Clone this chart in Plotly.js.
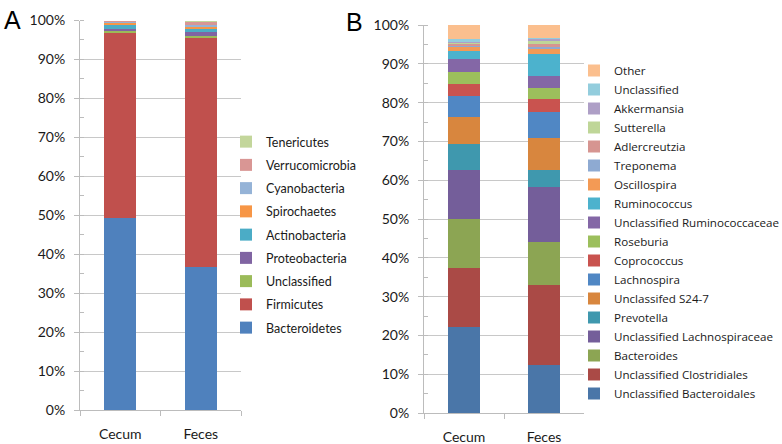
<!DOCTYPE html>
<html>
<head>
<meta charset="utf-8">
<script src="https://cdn.plot.ly/plotly-3.0.1.min.js"></script>
<style>
  html, body { margin: 0; padding: 0; background: #fff; }
  #graph { width: 782px; height: 444px; }
</style>
</head>
<body>
<div id="graph"></div>
<script>
// sample sites (x categories)
const sites = ['Cecum', 'Feces'];

// Panel A - phylum level (percent), bottom of stack first
const phylumNames = ['Bacteroidetes', 'Firmicutes', 'Unclassified', 'Proteobacteria', 'Actinobacteria',
    'Spirochaetes', 'Cyanobacteria', 'Verrucomicrobia', 'Tenericutes'];
const phylumCecum = [49.3, 47.4, 0.5, 0.7, 0.9, 0.6, 0.2, 0.2, 0.2];
const phylumFeces = [36.8, 58.8, 0.5, 0.9, 0.9, 0.5, 0.35, 0.8, 0.45];
const phylumColors = ['#4f81bd', '#c0504d', '#9bbb59', '#8064a2', '#4bacc6',
    '#f79646', '#95b3d7', '#d99694', '#c3d69b'];

// Panel B - genus level (percent), bottom of stack first
const genusNames = ['Unclassified Bacteroidales', 'Unclassified Clostridiales', 'Bacteroides',
    'Unclassified Lachnospiraceae', 'Prevotella', 'Unclassifed S24-7', 'Lachnospira', 'Coprococcus',
    'Roseburia', 'Unclassified Ruminococcaceae', 'Ruminococcus', 'Oscillospira', 'Treponema',
    'Adlercreutzia', 'Sutterella', 'Akkermansia', 'Unclassified', 'Other'];
const genusCecum = [22.2, 15.2, 12.6, 12.7, 6.6, 7.1, 5.2, 3.1, 3.1, 3.4, 2.1, 1.0, 0.4, 0.3, 0.3, 0.4, 0.7, 3.6];
const genusFeces = [12.3, 20.6, 11.1, 14.3, 4.3, 8.4, 6.7, 3.3, 2.8, 3.0, 5.7, 1.2, 0.6, 0.7, 0.8, 0.5, 0.4, 3.3];
const genusColors = ['#4a76a8', '#aa4a46', '#8ca553', '#745e9a', '#3f98ae', '#d8863e', '#5087c4',
    '#c9534f', '#9cbf5c', '#8467a6', '#4cb2cd', '#f39a55', '#8eaad2', '#d69591', '#bfd698',
    '#ae9fc6', '#93cddd', '#fbbf8e'];

const traces = [];

// legend lists the top of the stack first, like the excel original
phylumNames.forEach((name, i) => {
    traces.push({
        type: 'bar',
        x: sites,
        y: [phylumCecum[i], phylumFeces[i]],
        name: name,
        marker: { color: phylumColors[i] },
        xaxis: 'x',
        yaxis: 'y',
        legend: 'legend',
        legendgroup: 'a' + i,
        legendrank: 100 - i,
        hoverinfo: 'name+y'
    });
});

genusNames.forEach((name, i) => {
    traces.push({
        type: 'bar',
        x: sites,
        y: [genusCecum[i], genusFeces[i]],
        name: name,
        marker: { color: genusColors[i] },
        xaxis: 'x2',
        yaxis: 'y2',
        legend: 'legend2',
        legendrank: 100 - i,
        hoverinfo: 'name+y'
    });
});

const W = 782, H = 444;
const fontFam = 'Lato, "Open Sans", sans-serif';

function yAxis(domain) {
    return {
        domain: domain,
        range: [0, 100],
        dtick: 10,
        ticksuffix: '%',
        showgrid: true,
        gridcolor: '#c8c8c8',
        gridwidth: 1,
        showline: true,
        linecolor: '#bcbcbc',
        ticks: 'outside',
        ticklen: 5,
        tickcolor: '#bcbcbc',
        ticklabelstandoff: 6,
        minor: { dtick: 5, ticks: 'inside', ticklen: 4, tickcolor: '#bcbcbc', showgrid: false },
        zeroline: false,
        fixedrange: true,
        tickfont: { family: fontFam, size: 14, color: '#1a1a1a' }
    };
}

function xAxis(domain, anchor) {
    return {
        domain: domain,
        anchor: anchor,
        type: 'category',
        showline: true,
        linecolor: '#bcbcbc',
        ticks: 'outside',
        tickson: 'boundaries',
        ticklen: 5,
        tickcolor: '#bcbcbc',
        ticklabelstandoff: 11,
        showgrid: false,
        fixedrange: true,
        tickfont: { family: fontFam, size: 14, color: '#1a1a1a' }
    };
}

const layout = {
    width: W,
    height: H,
    // keep the legends from pushing the plot areas around
    margin: { l: 0, r: 0, t: 0, b: 0, autoexpand: false },
    paper_bgcolor: '#fff',
    plot_bgcolor: '#fff',
    barmode: 'stack',
    bargap: 0.6,
    font: { family: fontFam, color: '#1a1a1a' },
    xaxis: xAxis([80 / W, 241 / W], 'y'),
    yaxis: yAxis([(H - 410) / H, (H - 20.5) / H]),
    xaxis2: xAxis([424 / W, 584 / W], 'y2'),
    yaxis2: Object.assign(yAxis([(H - 413) / H, (H - 25) / H]), { anchor: 'x2' }),
    legend: {
        x: 226 / W, xanchor: 'left',
        y: (H - 127) / H, yanchor: 'top',
        traceorder: 'grouped',
        tracegroupgap: 4,
        font: { family: fontFam, size: 12.5, color: '#1a1a1a' },
        bgcolor: 'rgba(0,0,0,0)'
    },
    legend2: {
        x: 574 / W, xanchor: 'left',
        y: (H - 56) / H, yanchor: 'top',
        traceorder: 'normal',
        font: { family: '"Open Sans", Lato, sans-serif', size: 11.6, color: '#1a1a1a' },
        bgcolor: 'rgba(0,0,0,0)'
    },
    annotations: [
        { text: 'A', xref: 'paper', yref: 'paper', x: 2 / W, y: (H - 4) / H, xanchor: 'left', yanchor: 'top',
          showarrow: false, font: { family: 'Liberation Sans, Arial, sans-serif', size: 25, color: '#000' } },
        { text: 'B', xref: 'paper', yref: 'paper', x: 344 / W, y: (H - 6) / H, xanchor: 'left', yanchor: 'top',
          showarrow: false, font: { family: 'Liberation Sans, Arial, sans-serif', size: 25, color: '#000' } }
    ]
};

Plotly.newPlot('graph', traces, layout, { displayModeBar: false, staticPlot: true });
</script>
</body>
</html>
